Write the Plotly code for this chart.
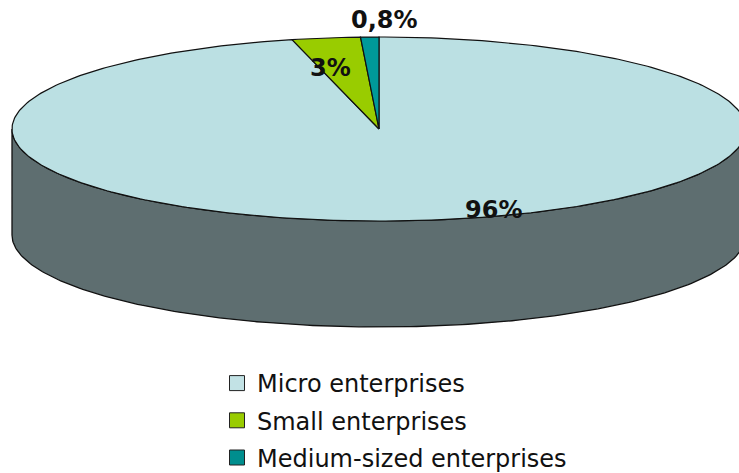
import numpy as np
import plotly.graph_objects as go

# ---- data ----
categories = ["Micro enterprises", "Small enterprises", "Medium-sized enterprises"]
values = [96, 3, 0.8]

# ---- style ----
top_colors = ["#BBE0E3", "#99CC00", "#009999"]
side_color = "#5E6E70"
legend_colors = ["#C2E2E5", "#99CC00", "#008E8E"]
label_pos = [(493, 210), (330, 68), (384, 20)]

W, H = 739, 473
cx, cy, rx, ry, depth = 379, 129, 367, 92, 106

def pt(theta, dy=0.0):
    # theta measured clockwise from 12 o'clock
    return cx + rx * np.sin(theta), cy - ry * np.cos(theta) + dy

fig = go.Figure()

# side wall (visible front half)
th = np.linspace(np.pi / 2, 3 * np.pi / 2, 200)
xt, yt = pt(th)
xb, yb = pt(th[::-1], depth)
fig.add_trace(go.Scatter(
    x=np.concatenate([xt, xb, xt[:1]]), y=np.concatenate([yt, yb, yt[:1]]),
    mode="lines", fill="toself", fillcolor=side_color,
    line=dict(color="#111111", width=1.3), showlegend=False, hoverinfo="skip"))

# top slices
total = sum(values)
start = 0.0
for v, col in zip(values, top_colors):
    end = start + v / total * 2 * np.pi
    t = np.linspace(start, end, max(int(400 * v / total), 4))
    xs, ys = pt(t)
    fig.add_trace(go.Scatter(
        x=np.concatenate([[cx], xs, [cx]]), y=np.concatenate([[cy], ys, [cy]]),
        mode="lines", fill="toself", fillcolor=col,
        line=dict(color="#111111", width=1.2), showlegend=False, hoverinfo="skip"))
    start = end

# legend entries
for i, (name, col) in enumerate(zip(categories, legend_colors)):
    fig.add_trace(go.Scatter(
        x=[None], y=[None], mode="markers", name=name, legendgroup=str(i),
        marker=dict(symbol="square", size=15, color=col,
                    line=dict(color="#222222", width=1))))

# data labels
for v, (lx, ly) in zip(values, label_pos):
    txt = f"{v:g}".replace(".", ",") + "%"
    fig.add_annotation(x=lx, y=ly, text=f"<b>{txt}</b>", showarrow=False,
                       font=dict(family="DejaVu Sans", size=24, color="#111111"))

fig.update_xaxes(range=[0, W], visible=False, fixedrange=True)
fig.update_yaxes(range=[H, 0], visible=False, fixedrange=True)
fig.update_layout(
    width=W, height=H, margin=dict(l=0, r=0, t=0, b=0, autoexpand=False),
    paper_bgcolor="white", plot_bgcolor="white",
    legend=dict(x=217 / W, y=1 - 361 / H, xanchor="left", yanchor="top",
                font=dict(family="DejaVu Sans", size=24, color="#111111"),
                tracegroupgap=3, itemsizing="trace"),
)
fig.write_html("out.html")
